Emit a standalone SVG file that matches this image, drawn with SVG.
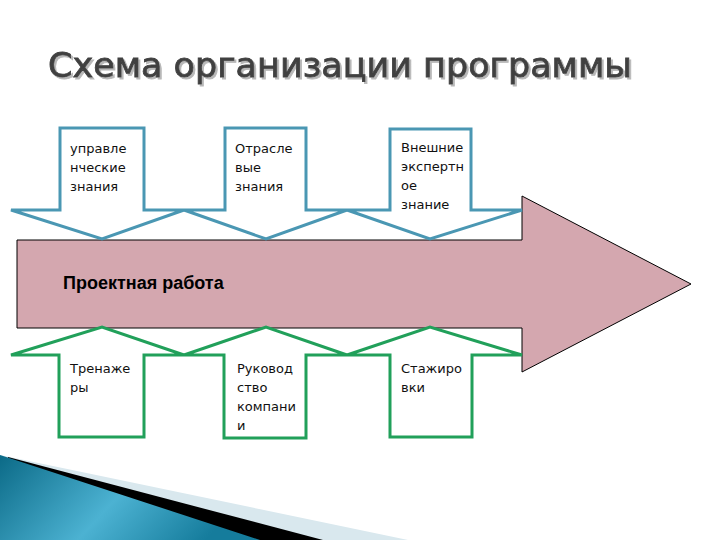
<svg xmlns="http://www.w3.org/2000/svg" width="720" height="540" viewBox="0 0 720 540">
<defs>
<linearGradient id="teal" x1="0" y1="0" x2="1" y2="0.3">
<stop offset="0" stop-color="#0b6a87"/>
<stop offset="0.55" stop-color="#4cb2d2"/>
<stop offset="1" stop-color="#157c9c"/>
</linearGradient>
<filter id="shadow" x="-5%" y="-20%" width="110%" height="150%">
<feDropShadow dx="2" dy="2" stdDeviation="0.6" flood-color="#b0b0b0" flood-opacity="0.9"/>
</filter>
</defs>
<style>
.lbl{font-family:"DejaVu Sans",Verdana,sans-serif;font-size:13px;fill:#111}
.blue{fill:#fff;stroke:#4a97b3;stroke-width:3;stroke-linejoin:miter}
.green{fill:#fff;stroke:#21a05a;stroke-width:3;stroke-linejoin:miter}
.title{font-family:"DejaVu Sans",Verdana,sans-serif;font-size:33px}
</style>
<rect width="720" height="540" fill="#fff"/>
<g id="title">
<text class="title" x="48" y="77" fill="#404040" stroke="#404040" stroke-width="0.8" filter="url(#shadow)" textLength="584" lengthAdjust="spacingAndGlyphs">Схема организации программы</text>
</g>
<g id="decoration">
<polygon points="0,455 408,540 0,540" fill="#d9e8ee"/>
<polygon points="8,457 323,540 0,540" fill="#000"/>
<polygon points="0,455 260,540 0,540" fill="url(#teal)"/>
</g>
<g id="main-arrow">
<polygon points="17,240 522,240 522,196 691,284 522,372 522,328 17,328" fill="#d4a7af" stroke="#000" stroke-width="1"/>
<text x="63" y="289" font-family="Liberation Sans,Arial,sans-serif" font-weight="bold" font-size="18" fill="#000">Проектная работа</text>
</g>
<g id="top1">
<polygon class="blue" points="60,128 144,128 144,210 184,210 102,239 11,210 60,210"/>
<text class="lbl" x="70" y="153">управле</text>
<text class="lbl" x="70" y="172">нческие</text>
<text class="lbl" x="70" y="191">знания</text>
</g>
<g id="top2">
<polygon class="blue" points="225,128 306,128 306,210 347,210 266,239 184,210 225,210"/>
<text class="lbl" x="235" y="153">Отрасле</text>
<text class="lbl" x="235" y="172">вые</text>
<text class="lbl" x="235" y="191">знания</text>
</g>
<g id="top3">
<polygon class="blue" points="390,129 471,129 471,210 522,210 430,239 347,210 390,210"/>
<text class="lbl" x="401" y="152">Внешние</text>
<text class="lbl" x="401" y="171">экспертн</text>
<text class="lbl" x="401" y="190">ое</text>
<text class="lbl" x="401" y="209">знание</text>
</g>
<g id="bottom1">
<polygon class="green" points="59,437 144,437 144,355 184,355 102,327 11,355 59,355"/>
<text class="lbl" x="70" y="373">Тренаже</text>
<text class="lbl" x="70" y="392">ры</text>
</g>
<g id="bottom2">
<polygon class="green" points="224,438 306,438 306,355 347,355 266,327 184,355 224,355"/>
<text class="lbl" x="237" y="373">Руковод</text>
<text class="lbl" x="237" y="392">ство</text>
<text class="lbl" x="237" y="411">компани</text>
<text class="lbl" x="237" y="430">и</text>
</g>
<g id="bottom3">
<polygon class="green" points="390,437 472,437 472,355 522,355 430,327 347,355 390,355"/>
<text class="lbl" x="401" y="373">Стажиро</text>
<text class="lbl" x="401" y="392">вки</text>
</g>
<g id="connectors"></g>
</svg>
